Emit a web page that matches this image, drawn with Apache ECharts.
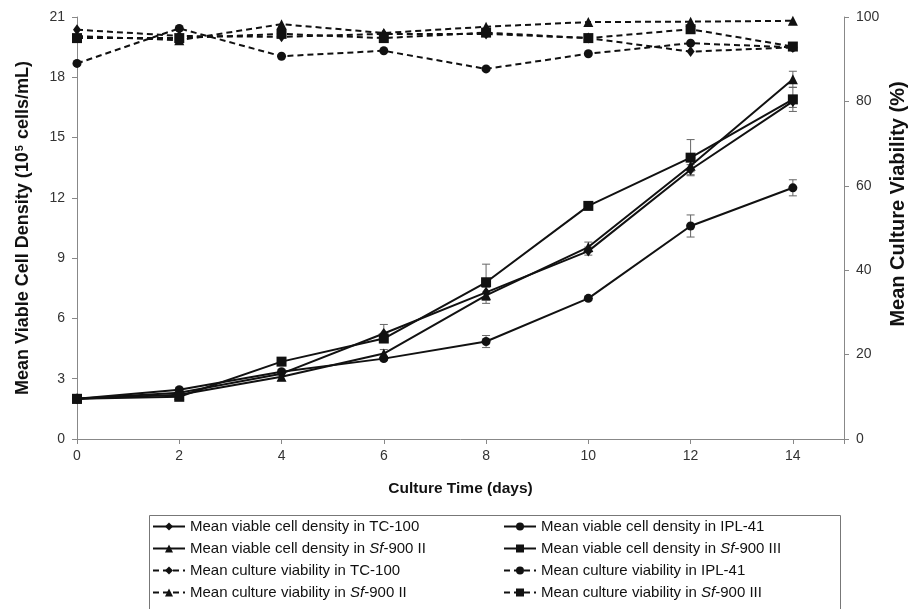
<!DOCTYPE html>
<html>
<head>
<meta charset="utf-8">
<script src="https://cdn.jsdelivr.net/npm/echarts@6/dist/echarts.min.js"></script>
<style>
html,body{margin:0;padding:0;background:#fff;}
#chart{width:916px;height:609px;}
</style>
</head>
<body>
<div id="chart"></div>
<script>
var days = [0, 2, 4, 6, 8, 10, 12, 14];

var densTC100    = [2.0, 2.3, 3.25, 5.25, 7.3, 9.35, 13.4, 16.8];
var densIPL41    = [2.0, 2.45, 3.35, 4.0, 4.85, 7.0, 10.6, 12.5];
var densSf900II  = [2.0, 2.2, 3.1, 4.25, 7.15, 9.55, 13.6, 17.9];
var densSf900III = [2.0, 2.1, 3.85, 5.0, 7.8, 11.6, 14.0, 16.9];

var errTC100    = [0, 0.1, 0.1, 0.45, 0.3, 0.2, 0.25, 0.3];
var errIPL41    = [0, 0.1, 0.1, 0.1, 0.3, 0.1, 0.55, 0.4];
var errSf900II  = [0, 0.15, 0.2, 0.2, 0.4, 0.25, 0.3, 0.4];
var errSf900III = [0, 0.1, 0.1, 0.1, 0.9, 0.1, 0.9, 0.6];

var viaTC100    = [97.0, 95.5, 95.3, 96.0, 96.0, 95.0, 91.8, 92.8];
var viaIPL41    = [89.0, 97.3, 90.7, 92.0, 87.7, 91.3, 93.8, 92.8];
var viaSf900II  = [95.5, 94.5, 98.3, 96.2, 97.7, 98.8, 98.9, 99.1];
var viaSf900III = [95.0, 95.0, 96.0, 95.0, 96.3, 95.0, 97.1, 93.0];

var xTicks = [0, 2, 4, 6, 8, 10, 12, 14];
var leftTicks = [0, 3, 6, 9, 12, 15, 18, 21];
var rightTicks = [0, 20, 40, 60, 80, 100];

var names = {
  dTC: 'Mean viable cell density in TC-100',
  dIPL: 'Mean viable cell density in IPL-41',
  dS2: 'Mean viable cell density in Sf-900 II',
  dS3: 'Mean viable cell density in Sf-900 III',
  vTC: 'Mean culture viability in TC-100',
  vIPL: 'Mean culture viability in IPL-41',
  vS2: 'Mean culture viability in Sf-900 II',
  vS3: 'Mean culture viability in Sf-900 III'
};

function pairs(vals) { return days.map(function (d, i) { return [d, vals[i]]; }); }
function errPairs(vals, errs) { return days.map(function (d, i) { return [d, vals[i], errs[i]]; }); }

var FONT = '"Liberation Sans", Arial, sans-serif';
var dash = [6, 4];

function lineSeries(name, data, symbol, size, yIdx, dashed) {
  return {
    name: name, type: 'line', yAxisIndex: yIdx, data: data,
    symbol: symbol, symbolSize: size, showSymbol: true,
    lineStyle: { color: '#111', width: 2, type: dashed ? dash : 'solid' },
    itemStyle: { color: '#111', borderWidth: 0 },
    emphasis: { disabled: true }, animation: false, z: 3
  };
}

function errSeries(data, yIdx) {
  return {
    type: 'custom', yAxisIndex: yIdx, data: data, animation: false, z: 2,
    encode: { x: 0, y: 1 }, silent: true,
    renderItem: function (params, api) {
      var x = api.value(0), y = api.value(1), e = api.value(2);
      if (!e) return null;
      var top = api.coord([x, y + e]);
      var bot = api.coord([x, y - e]);
      var w = 4;
      var st = { stroke: '#666', lineWidth: 1 };
      return { type: 'group', children: [
        { type: 'line', shape: { x1: top[0], y1: top[1], x2: bot[0], y2: bot[1] }, style: st },
        { type: 'line', shape: { x1: top[0] - w, y1: top[1], x2: top[0] + w, y2: top[1] }, style: st },
        { type: 'line', shape: { x1: bot[0] - w, y1: bot[1], x2: bot[0] + w, y2: bot[1] }, style: st }
      ]};
    }
  };
}

function legendFmt(n) {
  return n.replace(/Sf-900/, '{i|Sf}-900');
}

var legendText = {
  fontFamily: FONT, fontSize: 15, color: '#111',
  rich: { i: { fontFamily: FONT, fontSize: 15, fontStyle: 'italic', color: '#111' } }
};

var chart = echarts.init(document.getElementById('chart'), null, { renderer: 'canvas' });
chart.setOption({
  backgroundColor: '#fff',
  animation: false,
  grid: { left: 77, right: 72, top: 17, bottom: 170, containLabel: false },
  xAxis: {
    type: 'value', min: 0, max: 15, interval: 2,
    name: 'Culture Time (days)', nameLocation: 'middle', nameGap: 42,
    nameTextStyle: { fontFamily: FONT, fontSize: 15.5, fontWeight: 'bold', color: '#111' },
    axisLine: { show: true, lineStyle: { color: '#888', width: 1 } },
    axisTick: { show: true, length: 5, lineStyle: { color: '#888' } },
    axisLabel: { fontFamily: FONT, fontSize: 14, color: '#333', margin: 10,
      formatter: function (v) { return xTicks.indexOf(v) >= 0 ? String(v) : ''; } },
    splitLine: { show: false }
  },
  yAxis: [{
    type: 'value', min: 0, max: 21, interval: 3, position: 'left',
    name: '{a|Mean Viable Cell Density (10}{s|5}{a| cells/mL)}', nameLocation: 'middle', nameGap: 44,
    nameRotate: 90,
    nameTextStyle: { rich: {
      a: { fontFamily: FONT, fontSize: 18, fontWeight: 'bold', color: '#111' },
      s: { fontFamily: FONT, fontSize: 11, fontWeight: 'bold', color: '#111', verticalAlign: 'top', padding: [0, 1, 8, 1] }
    } },
    axisLine: { show: true, lineStyle: { color: '#888', width: 1 } },
    axisTick: { show: true, length: 5, lineStyle: { color: '#888' } },
    axisLabel: { fontFamily: FONT, fontSize: 14, color: '#333', margin: 12,
      formatter: function (v) { return leftTicks.indexOf(v) >= 0 ? String(v) : ''; } },
    splitLine: { show: false }
  }, {
    type: 'value', min: 0, max: 100, interval: 20, position: 'right',
    axisLine: { show: true, lineStyle: { color: '#888', width: 1 } },
    axisTick: { show: true, length: 5, lineStyle: { color: '#888' } },
    axisLabel: { fontFamily: FONT, fontSize: 14, color: '#333', margin: 12,
      formatter: function (v) { return rightTicks.indexOf(v) >= 0 ? String(v) : ''; } },
    splitLine: { show: false }
  }],
  legend: [{
    orient: 'vertical', left: 152, top: 519, itemGap: 7, itemWidth: 32, itemHeight: 10,
    data: [names.dTC, names.dS2, names.vTC, names.vS2],
    formatter: legendFmt, textStyle: legendText, selectedMode: false, padding: 0
  }, {
    orient: 'vertical', left: 503, top: 519, itemGap: 7, itemWidth: 32, itemHeight: 10,
    data: [names.dIPL, names.dS3, names.vIPL, names.vS3],
    formatter: legendFmt, textStyle: legendText, selectedMode: false, padding: 0
  }],
  graphic: [{
    type: 'rect', left: 147, top: 513, shape: { width: 691, height: 110 },
    style: { fill: 'none', stroke: '#777', lineWidth: 1 }, silent: true, z: -1
  }, {
    type: 'text', x: 898, y: 204, rotation: Math.PI / 2, silent: true,
    style: { text: 'Mean Culture Viability (%)', fontFamily: FONT, fontSize: 20, fontWeight: 'bold',
      fill: '#111', align: 'center', verticalAlign: 'middle' }
  }],
  series: [
    lineSeries(names.dTC, pairs(densTC100), 'diamond', [8, 11], 0, false),
    lineSeries(names.dIPL, pairs(densIPL41), 'circle', 9, 0, false),
    lineSeries(names.dS2, pairs(densSf900II), 'triangle', 10, 0, false),
    lineSeries(names.dS3, pairs(densSf900III), 'rect', 10, 0, false),
    lineSeries(names.vTC, pairs(viaTC100), 'diamond', [8, 11], 1, true),
    lineSeries(names.vIPL, pairs(viaIPL41), 'circle', 9, 1, true),
    lineSeries(names.vS2, pairs(viaSf900II), 'triangle', 10, 1, true),
    lineSeries(names.vS3, pairs(viaSf900III), 'rect', 10, 1, true),
    errSeries(errPairs(densTC100, errTC100), 0),
    errSeries(errPairs(densIPL41, errIPL41), 0),
    errSeries(errPairs(densSf900II, errSf900II), 0),
    errSeries(errPairs(densSf900III, errSf900III), 0)
  ]
});
</script>
</body>
</html>
